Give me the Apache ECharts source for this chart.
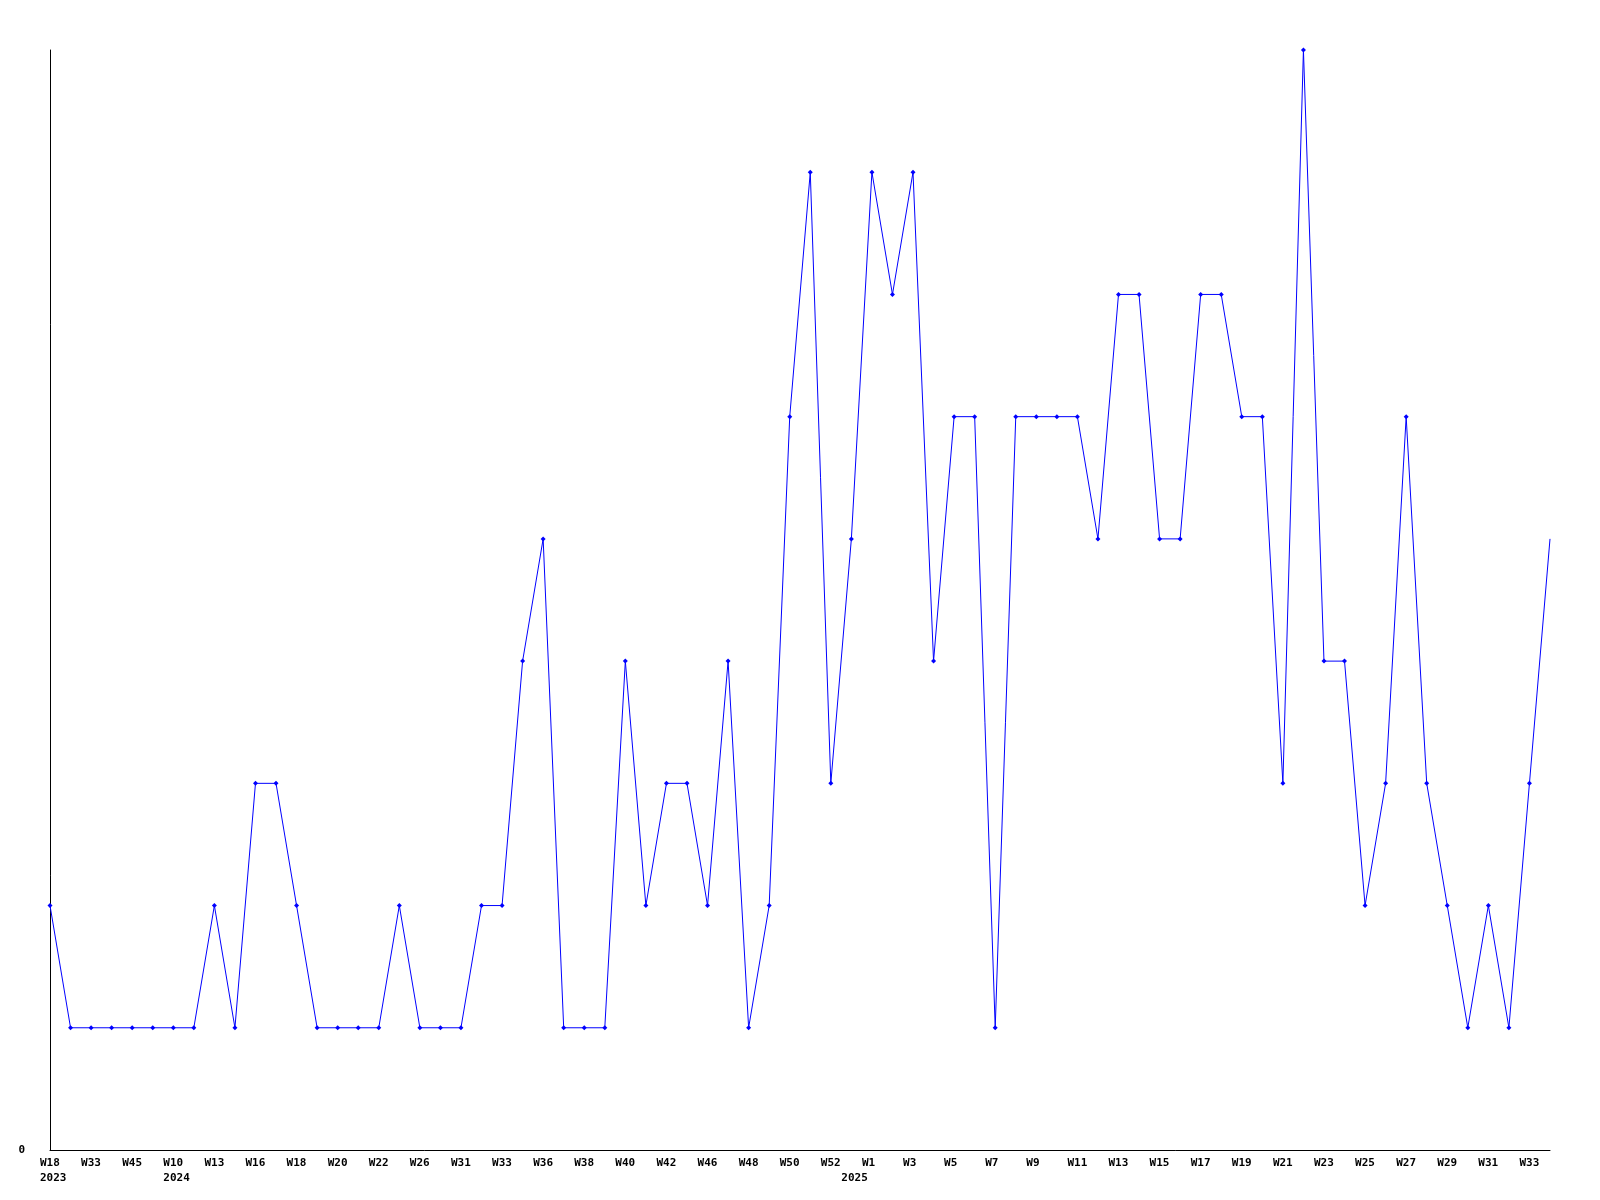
<!DOCTYPE html>
<html>
<head>
<meta charset="utf-8">
<script src="https://cdn.jsdelivr.net/npm/echarts@6/dist/echarts.min.js"></script>
<style>html,body{margin:0;padding:0;background:#fff}#c{width:1600px;height:1200px}</style>
</head>
<body>
<div id="c"></div>
<script>
const weeks = ["W18","W30","W33","W40","W45","W50","W10","W11","W13","W15","W16","W17","W18","W19","W20","W21","W22","W25","W26","W28","W31","W32","W33","W35","W36","W37","W38","W39","W40","W41","W42","W44","W46","W47","W48","W49","W50","W51","W52","W1","W1","W2","W3","W4","W5","W6","W7","W8","W9","W10","W11","W12","W13","W14","W15","W16","W17","W18","W19","W20","W21","W22","W23","W24","W25","W26","W27","W28","W29","W30","W31","W32","W33","W34"];
const yearStarts = {0:"2023", 6:"2024", 39:"2025"};
const values = [2,1,1,1,1,1,1,1,2,1,3,3,2,1,1,1,1,2,1,1,1,2,2,4,5,1,1,1,4,2,3,3,2,4,1,2,6,8,3,5,8,7,8,4,6,6,1,6,6,6,6,5,7,7,5,5,7,7,6,6,3,9,4,4,2,3,6,3,2,1,2,1,3,5];
const categories = weeks.map((w,i)=> String(i));
const chart = echarts.init(document.getElementById('c'));
const font = {fontFamily:'DejaVu Sans Mono', fontWeight:'bold', fontSize:11, color:'#000'};
const rich = {t:Object.assign({width:20, align:'left'}, font)};
const seriesData = values.map((v,i)=> i===values.length-1 ? {value:v, symbol:'none'} : v);
chart.setOption({
  animation:false,
  backgroundColor:'#fff',
  grid:{left:50,right:50,top:50,bottom:50,containLabel:false},
  xAxis:[{type:'category',data:categories,boundaryGap:false,
    axisLine:{lineStyle:{color:'#000',width:1}},
    axisTick:{show:false},
    splitLine:{show:false},
    axisLabel:Object.assign({interval:1,margin:8,formatter:(v,i)=>'{t|'+weeks[i]+'}',rich:rich},font)},
   {type:'category',data:categories,boundaryGap:false,position:'bottom',offset:15,
    axisLine:{show:false},axisTick:{show:false},splitLine:{show:false},
    axisLabel:Object.assign({interval:0,margin:8,formatter:(v,i)=> yearStarts[i] ? '{t|'+yearStarts[i]+'}' : '',rich:rich},font)}],
  yAxis:{type:'value',min:0,max:9,interval:9,
    axisLine:{show:true,lineStyle:{color:'#000',width:1}},
    axisTick:{show:false},
    splitLine:{show:false},
    axisLabel:Object.assign({margin:25,formatter:v=>v===0?'0':''},font)},
  series:[{type:'line',data:seriesData,symbol:'diamond',symbolSize:5,showAllSymbol:true,
    lineStyle:{color:'#0000ff',width:1},itemStyle:{color:'#0000ff'}}]
});
</script>
</body>
</html>
